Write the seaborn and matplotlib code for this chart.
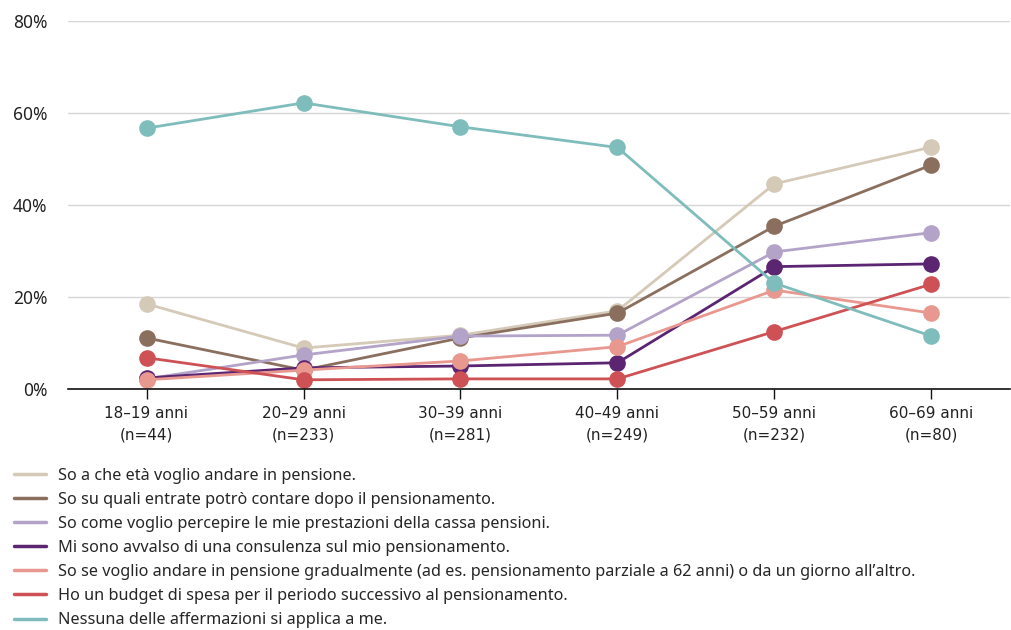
import matplotlib
matplotlib.use("Agg")
import matplotlib.pyplot as plt
from matplotlib.lines import Line2D
import seaborn as sns
import pandas as pd

categories = ["18–19 anni", "20–29 anni", "30–39 anni", "40–49 anni", "50–59 anni", "60–69 anni"]
sample_sizes = ["(n=44)", "(n=233)", "(n=281)", "(n=249)", "(n=232)", "(n=80)"]

series_names = [
    "So a che età voglio andare in pensione.",
    "So su quali entrate potrò contare dopo il pensionamento.",
    "So come voglio percepire le mie prestazioni della cassa pensioni.",
    "Mi sono avvalso di una consulenza sul mio pensionamento.",
    "So se voglio andare in pensione gradualmente (ad es. pensionamento parziale a 62 anni) o da un giorno all’altro.",
    "Ho un budget di spesa per il periodo successivo al pensionamento.",
    "Nessuna delle affermazioni si applica a me.",
]

eta_pensione = [18.5, 8.9, 11.7, 17.0, 44.6, 52.6]
entrate = [11.1, 4.1, 11.1, 16.5, 35.4, 48.7]
prestazioni = [2.2, 7.4, 11.5, 11.7, 29.8, 34.0]
consulenza = [2.4, 4.6, 5.0, 5.7, 26.6, 27.2]
gradualmente = [2.0, 4.1, 6.1, 9.2, 21.5, 16.5]
budget = [6.8, 2.0, 2.2, 2.2, 12.5, 22.8]
nessuna = [56.7, 62.2, 57.0, 52.5, 23.0, 11.5]

series_values = [eta_pensione, entrate, prestazioni, consulenza, gradualmente, budget, nessuna]
colors = ["#D5C9B7", "#8A6F5E", "#B3A3C8", "#5B2572", "#E8988F", "#CE5155", "#7FBDBC"]

rows = []
for name, vals in zip(series_names, series_values):
    for cat, v in zip(categories, vals):
        rows.append({"Età": cat, "Quota": v, "Affermazione": name})
df = pd.DataFrame(rows)

sns.set_theme(style="white")
plt.rcParams["font.family"] = ["Noto Sans", "DejaVu Sans"]

fig = plt.figure(figsize=(10.12, 6.3), dpi=100)
ax = fig.add_axes([68 / 1012, 1 - 389 / 630, (1010 - 68) / 1012, (389 - 21) / 630])

sns.lineplot(
    data=df, x="Età", y="Quota", hue="Affermazione", hue_order=series_names,
    palette=colors, marker="o", markersize=12, markeredgewidth=0,
    linewidth=2.0, sort=False, ax=ax, legend=False,
)

ax.set_ylim(0, 80)
ax.set_xlim(-0.5, 5.5)
ax.set_yticks([0, 20, 40, 60, 80])
ax.set_yticklabels([f"{v}%" for v in [0, 20, 40, 60, 80]], fontsize=12.5, color="#222222")
ax.set_xticks(range(len(categories)))
ax.set_xticklabels([f"{c}\n{n}" for c, n in zip(categories, sample_sizes)],
                   fontsize=11, color="#222222", linespacing=1.6,
                   family=["Liberation Sans Narrow", "DejaVu Sans"])
ax.yaxis.grid(True, color="#d6d6d6", linewidth=1)
ax.set_axisbelow(True)
for s in ["left", "right", "top"]:
    ax.spines[s].set_visible(False)
ax.spines["bottom"].set_color("#111111")
ax.spines["bottom"].set_linewidth(1.2)
ax.tick_params(axis="x", length=7, width=1, color="#111111", pad=5, bottom=True)
ax.tick_params(axis="y", length=0, pad=15)
ax.set_xlabel("")
ax.set_ylabel("")

handles = [Line2D([0], [0], color=c, linewidth=2.5) for c in colors]
fig.legend(handles, series_names, loc="upper left", bbox_to_anchor=(0.007, 1 - 461 / 630),
           frameon=False, fontsize=11.7, handlelength=2.0, handletextpad=0.75,
           labelspacing=0.5, borderaxespad=0.0, borderpad=0.4)

fig.savefig("out.png", dpi=100)
